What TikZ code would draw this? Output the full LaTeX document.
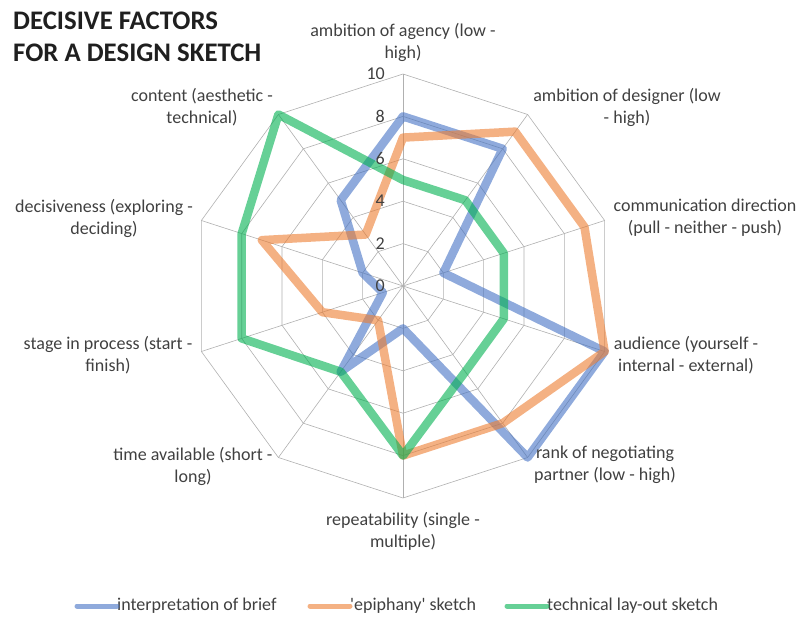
\documentclass[tikz,border=0pt]{standalone}
\usepackage{fontspec}
\setmainfont{Carlito}
\usepackage{tikz}

\definecolor{gridgray}{HTML}{B0B0B0}
\definecolor{labelgray}{HTML}{404040}
\definecolor{briefblue}{HTML}{4472C4}
\definecolor{epiorange}{HTML}{ED7D31}
\definecolor{techgreen}{HTML}{00B050}

\tikzset{
  gridline/.style={draw=gridgray, line width=0.6pt},
  series/.style={line width=8.5pt, line join=round, opacity=0.6},
  keyline/.style={line width=5pt, line cap=round, opacity=0.6},
  axislabel/.style={font=\fontsize{18}{22}\selectfont, text=labelgray, align=center, inner sep=0pt},
  ticklabel/.style={font=\fontsize{18}{22}\selectfont, text=labelgray, anchor=east, inner sep=0pt},
  keytext/.style={font=\fontsize{18}{22}\selectfont, text=labelgray, anchor=west, inner sep=0pt},
}

\begin{document}
\begin{tikzpicture}[x=1pt, y=1pt]
\useasboundingbox (0,0) rectangle (800,616);

\node[anchor=west, inner sep=0pt, align=left, font=\fontsize{26.8}{32}\selectfont\bfseries, text=black!88] (title) at (13,579) {DECISIVE FACTORS\\FOR A DESIGN SKETCH};

\begin{scope}[shift={(403,330)}]
% grid
\foreach \r in {2,4,6,8,10}
  \draw[gridline] (90:21.2*\r) -- (54:21.2*\r) -- (18:21.2*\r) -- (-18:21.2*\r) -- (-54:21.2*\r)
    -- (-90:21.2*\r) -- (-126:21.2*\r) -- (-162:21.2*\r) -- (162:21.2*\r) -- (126:21.2*\r) -- cycle;
\foreach \k in {0,...,9}
  \draw[gridline] (0,0) -- (90-36*\k:212);

% data points
\foreach \v [count=\k from 0] in {8,8,2,10,10,2,5,1,2,5}
  \coordinate (brief-\k) at (90-36*\k:21.2*\v);
\foreach \v [count=\k from 0] in {7,9,9,10,8,8,2,4,7,3}
  \coordinate (epi-\k) at (90-36*\k:21.2*\v);
\foreach \v [count=\k from 0] in {5,5,5,5,5,8,5,8,8,10}
  \coordinate (tech-\k) at (90-36*\k:21.2*\v);

\draw[series, briefblue] (brief-0) -- (brief-1) -- (brief-2) -- (brief-3) -- (brief-4) -- (brief-5)
  -- (brief-6) -- (brief-7) -- (brief-8) -- (brief-9) -- cycle;
\draw[series, epiorange] (epi-0) -- (epi-1) -- (epi-2) -- (epi-3) -- (epi-4) -- (epi-5)
  -- (epi-6) -- (epi-7) -- (epi-8) -- (epi-9) -- cycle;
\draw[series, techgreen] (tech-0) -- (tech-1) -- (tech-2) -- (tech-3) -- (tech-4) -- (tech-5)
  -- (tech-6) -- (tech-7) -- (tech-8) -- (tech-9) -- cycle;
\end{scope}

% scale
\foreach \t in {0,2,...,10}
  \node[ticklabel] (tick-\t) at (385,330+21.2*\t) {\t};

% axis labels
\node[axislabel] (agency) at (403,574) {ambition of agency (low -\\high)};
\node[axislabel] (designer) at (627,509) {ambition of designer (low\\- high)};
\node[axislabel] (direction) at (705,398) {communication direction\\(pull - neither - push)};
\node[axislabel] (audience) at (686,261) {audience (yourself -\\internal - external)};
\node[axislabel] (rank) at (605,151) {rank of negotiating\\partner (low - high)};
\node[axislabel] (repeat) at (403,85) {repeatability (single -\\multiple)};
\node[axislabel] (time) at (193,150) {time available (short -\\long)};
\node[axislabel] (stage) at (108,261) {stage in process (start -\\finish)};
\node[axislabel] (decisive) at (104,398) {decisiveness (exploring -\\deciding)};
\node[axislabel] (content) at (202,509) {content (aesthetic -\\technical)};

% legend
\node[keytext] (key-brief) at (117,10) {interpretation of brief};
\node[keytext] (key-epi) at (350,10) {\textquotesingle epiphany\textquotesingle\ sketch};
\node[keytext] (key-tech) at (547,10) {technical lay-out sketch};
\draw[keyline, briefblue] ([xshift=-40pt]key-brief.west) -- (key-brief.west);
\draw[keyline, epiorange] ([xshift=-40pt]key-epi.west) -- (key-epi.west);
\draw[keyline, techgreen] ([xshift=-40pt]key-tech.west) -- (key-tech.west);

\end{tikzpicture}
\end{document}
